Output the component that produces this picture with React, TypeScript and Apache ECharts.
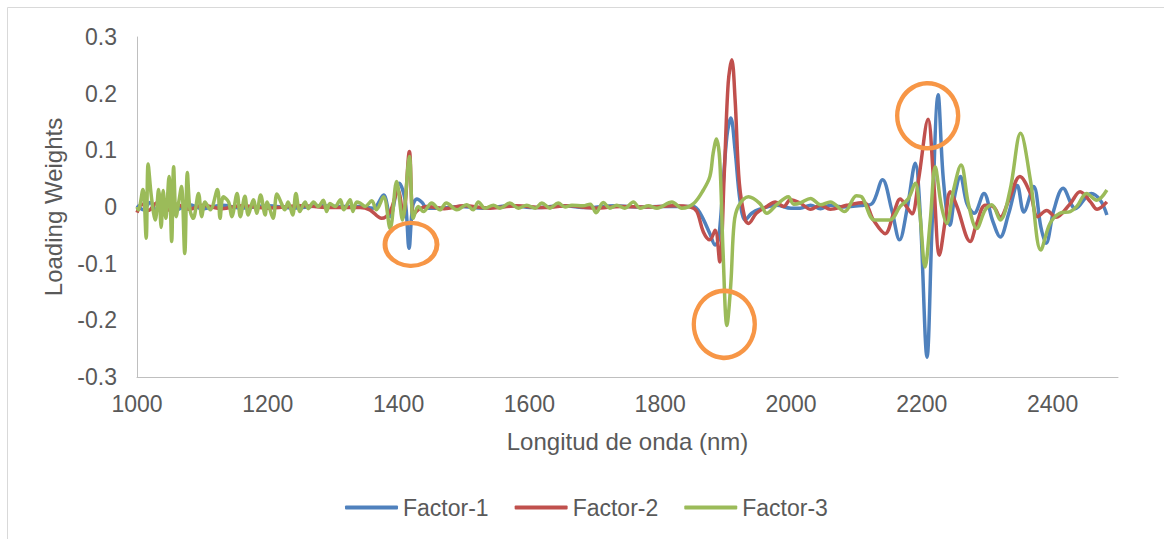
import React, { useEffect, useRef } from "react";
import * as echarts from "echarts";

// Wavelength (nm), loading weight pairs
const factor1: [number, number][] = [
  [1000, 0.003], [1010, -0.005], [1020, 0.008], [1030, -0.006], [1045, 0.006], [1060, -0.005],
  [1080, 0.004], [1100, -0.003], [1130, 0.003], [1160, -0.002], [1200, 0.002], [1240, -0.002],
  [1280, 0.002], [1320, 0.001], [1341, 0.001], [1361, -0.002], [1377, 0.021], [1387, -0.017],
  [1401, 0.042], [1410, 0.012], [1416, -0.073], [1421.5, 0.001], [1428, 0.014], [1436, 0.008],
  [1443, -0.002], [1463, -0.002], [1494, 0.001], [1530, -0.002], [1570, 0.002], [1610, -0.001],
  [1650, 0.002], [1690, -0.001], [1730, 0.002], [1770, 0], [1800, 0.001], [1830, 0.001],
  [1851, 0.001], [1861, -0.011], [1876, -0.047], [1884, -0.067], [1889, -0.058], [1895, 0.02],
  [1902, 0.125], [1908, 0.157], [1914.5, 0.1], [1922, 0.012], [1930, -0.023], [1940, -0.011],
  [1952, -0.004], [1978, 0.003], [2000, -0.002], [2014, -0.002], [2030, 0.003], [2045, -0.003],
  [2060, 0.003], [2080, 0], [2111, 0.003], [2124, 0.006], [2140, 0.048], [2154, -0.005],
  [2166, -0.058], [2178, 0], [2190, 0.077], [2197.5, -0.011], [2208, -0.265], [2215.5, -0.04],
  [2225, 0.198], [2233, 0.048], [2243, -0.032], [2251, 0.024], [2259, 0.054], [2269, 0.006],
  [2280, -0.011], [2295, 0.024], [2308, -0.023], [2320, -0.053], [2333, -0.011], [2346, 0.038],
  [2356, -0.009], [2371, 0.036], [2382, -0.035], [2390, -0.064], [2402, -0.005], [2416, 0.033],
  [2435, -0.003], [2459, 0.024], [2473, 0.012], [2483, -0.014],
];

const factor2: [number, number][] = [
  [1000, -0.01], [1008, 0.005], [1018, -0.006], [1030, 0.007], [1045, -0.006], [1060, 0.005],
  [1080, -0.004], [1100, 0.003], [1130, -0.003], [1160, 0.002], [1200, -0.002], [1250, 0.002],
  [1300, -0.001], [1341, -0.001], [1356, -0.005], [1374, -0.02], [1387, -0.008], [1399, 0.03],
  [1407, -0.017], [1416.5, 0.098], [1422.5, -0.014], [1430, -0.005], [1443, 0.001], [1470, -0.003],
  [1500, 0.002], [1540, -0.002], [1580, 0.002], [1620, -0.001], [1660, 0.002], [1700, -0.002],
  [1740, 0.001], [1780, 0], [1820, 0.002], [1846, 0], [1856, -0.008], [1866, -0.044],
  [1876, -0.058], [1884, -0.041], [1891, -0.097], [1898, 0.06], [1904, 0.219], [1909.5, 0.26],
  [1914.5, 0.19], [1921, 0.042], [1930, -0.023], [1935, -0.029], [1947, -0.011], [1963, 0.001],
  [1976, 0.009], [1989, 0.001], [1999, 0.013], [2014, 0.007], [2030, -0.004], [2045, 0.003],
  [2060, -0.004], [2085, 0.003], [2111, 0.008], [2126, -0.023], [2144, -0.047], [2157, -0.011],
  [2167, 0.014], [2177, 0], [2185, -0.012], [2195, 0.048], [2209.6, 0.155], [2218, 0.048],
  [2227, -0.085], [2236, -0.023], [2243.5, 0.027], [2254, 0], [2274, -0.061], [2284, -0.029],
  [2297, 0.003], [2310, 0], [2320, -0.018], [2333, 0.012], [2350, 0.054], [2366, 0.024],
  [2377, -0.017], [2391, -0.006], [2405, -0.018], [2427, 0.006], [2442, 0.027], [2458, 0.009],
  [2468, -0.004], [2483, 0.009],
];

const factor3: [number, number][] = [
  [1000, 0], [1002, -0.005], [1009, 0.031], [1014, -0.055], [1017, 0.076], [1022, 0.018],
  [1028, -0.023], [1033, 0.031], [1037, -0.036], [1040, 0.029], [1044, -0.02], [1049, 0.054],
  [1053, -0.061], [1056, 0.071], [1060, -0.017], [1064, 0.01], [1068, 0.036], [1073, -0.082],
  [1077, 0.061], [1081, -0.005], [1086, -0.02], [1094, 0.024], [1099, -0.017], [1104, 0.009],
  [1112, -0.005], [1123, 0.031], [1127, -0.02], [1132, 0.018], [1140, 0.009], [1145, -0.017],
  [1153, 0.024], [1158, -0.017], [1165, 0.019], [1170, -0.014], [1178, 0.013], [1183, -0.011],
  [1189, 0.021], [1196, -0.014], [1199, 0.009], [1208, -0.02], [1214, 0.023], [1221, 0.006],
  [1226, -0.005], [1231, 0.009], [1238, -0.014], [1243, 0.024], [1249, -0.008], [1257, 0.009],
  [1262, -0.003], [1270, 0.009], [1277, 0.001], [1285, 0.012], [1290, -0.008], [1295, 0.006],
  [1303, 0.001], [1311, 0.013], [1316, -0.005], [1326, 0.013], [1330, -0.008], [1336, 0.009],
  [1341, 0.007], [1349, 0.001], [1359, 0.011], [1366, -0.005], [1377, 0.018], [1387, -0.038],
  [1397, 0.045], [1406, -0.023], [1416.5, 0.089], [1422.5, -0.02], [1430, 0.001], [1438, -0.008],
  [1450.6, 0.007], [1463, -0.005], [1473, 0.007], [1489, -0.005], [1504, 0.004], [1514, -0.005],
  [1522, 0.009], [1532, -0.002], [1545, 0.003], [1555, -0.002], [1570, 0.007], [1583, -0.002],
  [1596, 0.003], [1609, -0.002], [1619, 0.007], [1631.5, -0.002], [1644, 0.007], [1654.5, 0],
  [1665, 0.003], [1682, 0.002], [1693, 0.005], [1702, -0.01], [1713, 0.008], [1723, -0.002],
  [1733.5, 0.003], [1746, -0.002], [1759, 0.009], [1769, -0.002], [1782, 0.002], [1795, -0.002],
  [1818, 0.009], [1833, -0.002], [1851, 0.006], [1866, 0.03], [1876, 0.054], [1881, 0.095],
  [1886, 0.12], [1891, 0.083], [1896, -0.076], [1902, -0.209], [1908, -0.135], [1913, -0.029],
  [1919.5, 0.001], [1935, 0.018], [1952.5, 0.006], [1963, -0.011], [1978, 0.004], [1996, 0.018],
  [2004, 0.005], [2014, 0.007], [2030, 0.015], [2045, 0.004], [2060, 0.009], [2082, -0.008],
  [2100, 0.02], [2108, 0.018], [2128, -0.023], [2151, -0.023], [2167, 0.001], [2179.5, 0.015],
  [2190, 0.042], [2197, -0.011], [2205, -0.106], [2213, -0.023], [2220.5, 0.071], [2229.7, 0.0035],
  [2238, -0.029], [2248.5, 0.03], [2260, 0.074], [2271.5, 0.004], [2284, -0.038], [2297, -0.005],
  [2307, 0.004], [2320, -0.023], [2335, 0.03], [2351, 0.13], [2366, 0.048], [2382, -0.076],
  [2396, -0.029], [2411, -0.011], [2427, -0.008], [2437, 0.001], [2452, 0.024], [2467.5, 0.012],
  [2483, 0.03],
];

const seriesNames = ["Factor-1", "Factor-2", "Factor-3"];
const seriesColors = ["#4f81bd", "#c0504d", "#9bbb59"];

// Highlight ellipses: centre (wavelength, weight) and drawn size
const highlightCentres: [number, number][] = [
  [1419, -0.066],
  [1898, -0.207],
  [2209, 0.161],
];
const highlightSizes: [number, number][] = [
  [52, 43],
  [61, 67],
  [61, 65],
];

export default function App() {
  const ref = useRef<HTMLDivElement>(null);
  useEffect(() => {
    if (!ref.current) return;
    const chart = echarts.init(ref.current, null, { renderer: "svg" });
    const font = "'Liberation Sans', Arial, Helvetica, sans-serif";
    const textColor = "#595959";
    const datasets = [factor1, factor2, factor3];
    chart.setOption({
      animation: false,
      backgroundColor: "#ffffff",
      textStyle: { fontFamily: font },
      graphic: [
        {
          type: "rect",
          silent: true,
          z: -1,
          shape: { x: 7.5, y: 7.5, width: 1300, height: 700 },
          style: { fill: "none", stroke: "#d9d9d9", lineWidth: 1 },
        },
      ],
      grid: { left: 137, top: 37, width: 981, height: 340 },
      legend: {
        data: seriesNames.map((n) => ({ name: n, icon: "roundRect" })),
        top: 491,
        left: 340,
        itemWidth: 53,
        itemHeight: 4,
        itemGap: 26,
        textStyle: { fontSize: 23, color: textColor, fontFamily: font, padding: [0, 0, 0, 0] },
      },
      xAxis: {
        type: "value",
        min: 1000,
        max: 2500,
        interval: 200,
        name: "Longitud de onda (nm)",
        nameLocation: "middle",
        nameGap: 52,
        nameTextStyle: { fontSize: 24, color: textColor, fontFamily: font },
        axisLine: { onZero: false, lineStyle: { color: "#bfbfbf", width: 1 } },
        axisTick: { show: false },
        splitLine: { show: false },
        axisLabel: {
          fontSize: 23,
          color: textColor,
          fontFamily: font,
          margin: 15,
          showMaxLabel: false,
          formatter: (v: number) => (v % 200 === 0 ? String(v) : ""),
        },
      },
      yAxis: {
        type: "value",
        min: -0.3,
        max: 0.3,
        interval: 0.1,
        name: "Loading Weights",
        nameLocation: "middle",
        nameGap: 72,
        nameTextStyle: { fontSize: 24, color: textColor, fontFamily: font },
        axisLine: { show: true, onZero: false, lineStyle: { color: "#bfbfbf", width: 1 } },
        axisTick: { show: false },
        splitLine: { show: false },
        axisLabel: {
          fontSize: 23,
          color: textColor,
          fontFamily: font,
          margin: 20,
          formatter: (v: number) => String(Math.round(v * 10) / 10),
        },
      },
      series: datasets.map((d, i) => ({
        name: seriesNames[i],
        type: "line",
        data: d,
        symbol: "none",
        smooth: 0.35,
        lineStyle: { color: seriesColors[i], width: 3.5 },
        itemStyle: { color: seriesColors[i] },
        markPoint:
          i === 2
            ? {
                symbol: "circle",
                silent: true,
                label: { show: false },
                itemStyle: { color: "rgba(0,0,0,0)", borderColor: "#f79646", borderWidth: 4.5 },
                data: highlightCentres.map((c, k) => ({ coord: c, symbolSize: highlightSizes[k] })),
              }
            : undefined,
      })),
    });
    return () => chart.dispose();
  }, []);
  return (
    <div
      ref={ref}
      style={{ position: "fixed", left: 0, top: 0, width: 1164, height: 539, background: "#fff" }}
    />
  );
}
